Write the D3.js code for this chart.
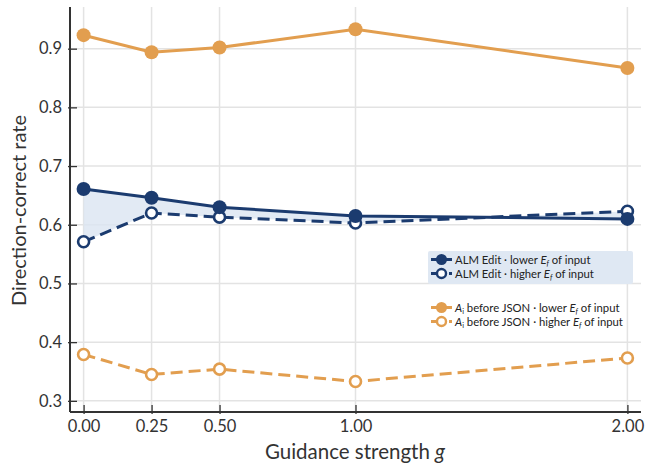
<!DOCTYPE html>
<html>
<head>
<meta charset="utf-8">
<script src="https://cdn.jsdelivr.net/npm/d3@7"></script>
<style>
  html, body { margin: 0; padding: 0; background: #fff; }
  svg { display: block; font-family: Lato, "Noto Sans", sans-serif; }
</style>
</head>
<body>
<svg id="chart" width="645" height="466"></svg>
<script>
// Guidance strength values on the x axis
const guidance = [0.00, 0.25, 0.50, 1.00, 2.00];
const xTickLabels = ["0.00", "0.25", "0.50", "1.00", "2.00"];
const yTicks = [0.3, 0.4, 0.5, 0.6, 0.7, 0.8, 0.9];

// Direction-correct rate per series
const almLower = [0.661, 0.646, 0.630, 0.615, 0.610];
const almHigher = [0.571, 0.620, 0.613, 0.603, 0.623];
const aiLower = [0.923, 0.894, 0.902, 0.933, 0.867];
const aiHigher = [0.379, 0.345, 0.354, 0.333, 0.373];

const navy = "#1b3b6f";
const orange = "#e29e4f";
const ink = "#333333";

const svg = d3.select("#chart");
const plot = { left: 70, right: 641, top: 7, bottom: 412 };

const x = d3.scaleLinear().domain([-0.05, 2.05]).range([plot.left, plot.right]);
const y = d3.scaleLinear().domain([0.281, 0.971]).range([plot.bottom, plot.top]);

// gridlines
const grid = svg.append("g");
grid.selectAll("line.gx").data(guidance).join("line")
  .attr("x1", d => x(d)).attr("x2", d => x(d))
  .attr("y1", plot.top).attr("y2", plot.bottom)
  .attr("stroke", "#e3e3e3").attr("stroke-width", 1.5);
grid.selectAll("line.gy").data(yTicks).join("line")
  .attr("x1", plot.left).attr("x2", plot.right)
  .attr("y1", d => y(d)).attr("y2", d => y(d))
  .attr("stroke", "#e3e3e3").attr("stroke-width", 1.5);

// shaded gap between the two ALM Edit series
const band = guidance.map((g, i) => ({ g, hi: almLower[i], lo: almHigher[i] }));
svg.append("path")
  .datum(band)
  .attr("fill", "#dbe5f1").attr("opacity", 0.8)
  .attr("d", d3.area().x(d => x(d.g)).y0(d => y(d.lo)).y1(d => y(d.hi)));

// axes
const yAxis = svg.append("g").attr("transform", `translate(${plot.left},0)`)
  .call(d3.axisLeft(y).tickValues(yTicks).tickFormat(d3.format(".1f")).tickSize(-7).tickPadding(8));
const xAxis = svg.append("g").attr("transform", `translate(0,${plot.bottom})`)
  .call(d3.axisBottom(x).tickValues(guidance).tickFormat((d, i) => xTickLabels[i]).tickSize(-7).tickPadding(8));
[yAxis, xAxis].forEach(a => {
  a.select(".domain").attr("stroke", ink).attr("stroke-width", 2);
  a.selectAll(".tick line").attr("stroke", ink).attr("stroke-width", 1.3);
  a.selectAll(".tick text").attr("fill", ink).attr("font-size", 16.5).attr("font-family", "Lato, sans-serif");
});
yAxis.selectAll(".tick line").attr("x1", -2);
xAxis.selectAll(".tick line").attr("y1", 2);
yAxis.select(".domain").attr("d", `M0,${plot.top}V${plot.bottom}`);
xAxis.select(".domain").attr("d", `M${plot.left},0H${plot.right}`);

// series
const series = [
  { vals: aiLower, color: orange, dashed: false, hollow: false },
  { vals: aiHigher, color: orange, dashed: true, hollow: true },
  { vals: almHigher, color: navy, dashed: true, hollow: true },
  { vals: almLower, color: navy, dashed: false, hollow: false }
];
const line = d3.line().x(d => x(d.g)).y(d => y(d.v));
series.forEach(s => {
  const pts = guidance.map((g, i) => ({ g, v: s.vals[i] }));
  svg.append("path").datum(pts)
    .attr("fill", "none").attr("stroke", s.color).attr("stroke-width", 3)
    .attr("stroke-dasharray", s.dashed ? "12,6" : null)
    .attr("d", line);
  svg.append("g").selectAll("circle").data(pts).join("circle")
    .attr("cx", d => x(d.g)).attr("cy", d => y(d.v))
    .attr("r", s.hollow ? 5.5 : 7)
    .attr("fill", s.hollow ? "#fff" : s.color)
    .attr("stroke", s.color).attr("stroke-width", s.hollow ? 2.6 : 0);
});

// legends
function legend(gx, gy, rows, bg) {
  const g = svg.append("g").attr("transform", `translate(${gx},${gy})`);
  if (bg) {
    g.append("rect").attr("x", 0).attr("y", 0).attr("width", 205).attr("height", 33)
      .attr("rx", 2).attr("fill", bg);
  }
  rows.forEach((r, i) => {
    const cy = 8.5 + i * 14;
    g.append("line").attr("x1", 3).attr("x2", 24).attr("y1", cy).attr("y2", cy)
      .attr("stroke", r.color).attr("stroke-width", 3)
      .attr("stroke-dasharray", r.dashed ? "6,3" : null);
    g.append("circle").attr("cx", 13.5).attr("cy", cy)
      .attr("r", r.hollow ? 4.5 : 5.5)
      .attr("fill", r.hollow ? "#fff" : r.color)
      .attr("stroke", r.color).attr("stroke-width", r.hollow ? 2.4 : 0);
    const t = g.append("text").attr("x", 27).attr("y", cy + 4)
      .attr("font-size", 11.3).attr("fill", "#222");
    r.parts.forEach(p => {
      const ts = t.append("tspan").text(p.t);
      if (p.it) ts.attr("font-style", "italic");
      if (p.sub) ts.attr("font-size", 7.5).attr("baseline-shift", "-2");
    });
  });
}
const ef = [{ t: "E", it: true }, { t: "f", it: true, sub: true }, { t: " of input" }];
legend(428, 251, [
  { color: navy, dashed: false, hollow: false, parts: [{ t: "ALM Edit · lower " }, ...ef] },
  { color: navy, dashed: true, hollow: true, parts: [{ t: "ALM Edit · higher " }, ...ef] }
], "#dfe8f3");
legend(428, 299, [
  { color: orange, dashed: false, hollow: false, parts: [{ t: "A", it: true }, { t: "i", sub: true }, { t: " before JSON · lower " }, ...ef] },
  { color: orange, dashed: true, hollow: true, parts: [{ t: "A", it: true }, { t: "i", sub: true }, { t: " before JSON · higher " }, ...ef] }
], null);

// axis titles
svg.append("text").attr("x", 355).attr("y", 459).attr("text-anchor", "middle")
  .attr("font-size", 20.5).attr("fill", ink)
  .call(t => { t.append("tspan").text("Guidance strength "); t.append("tspan").attr("font-style", "italic").text("g"); });
svg.append("text").attr("transform", `translate(26,${(plot.top + plot.bottom) / 2 + 1}) rotate(-90)`)
  .attr("text-anchor", "middle").attr("font-size", 20).attr("fill", ink)
  .text("Direction-correct rate");
</script>
</body>
</html>
